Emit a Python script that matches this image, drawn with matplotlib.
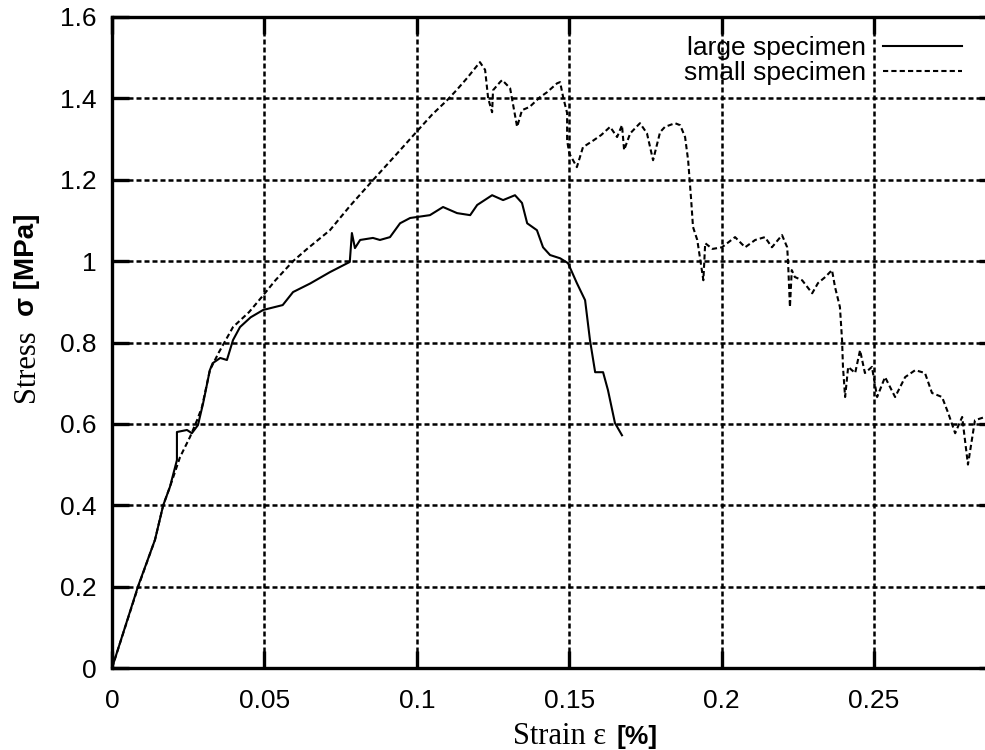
import matplotlib.pyplot as plt

# large specimen (solid)
large_strain = [0, 0.0086, 0.0141, 0.0168, 0.019, 0.0213, 0.0213, 0.0246, 0.0262, 0.0282,
                0.0299, 0.0321, 0.033, 0.0355, 0.0377, 0.0397, 0.042, 0.0455, 0.0496, 0.056,
                0.0594, 0.065, 0.0715, 0.078, 0.0787, 0.0797, 0.0814, 0.0856, 0.0879, 0.0912,
                0.0945, 0.0978, 0.1043, 0.1086, 0.1132, 0.1175, 0.1198, 0.1247, 0.1283, 0.1322,
                0.1345, 0.1362, 0.1394, 0.1414, 0.1437, 0.147, 0.1496, 0.1525, 0.1552, 0.1568,
                0.1585, 0.1611, 0.1627, 0.165, 0.1673]
large_stress = [0, 0.202, 0.315, 0.40, 0.445, 0.511, 0.58, 0.585, 0.577, 0.597,
                0.651, 0.732, 0.749, 0.762, 0.757, 0.806, 0.838, 0.862, 0.88, 0.892,
                0.924, 0.945, 0.973, 0.998, 1.069, 1.032, 1.052, 1.057, 1.052, 1.059,
                1.093, 1.106, 1.113, 1.133, 1.118, 1.113, 1.138, 1.162, 1.15, 1.162,
                1.143, 1.093, 1.076, 1.034, 1.015, 1.007, 0.995, 0.946, 0.904, 0.806,
                0.727, 0.727, 0.683, 0.602, 0.572]

# small specimen (dashed)
small_strain = [0, 0.0086, 0.0141, 0.0168, 0.019, 0.0223, 0.0256, 0.0279, 0.0295, 0.0312,
                0.0321, 0.035, 0.0397, 0.045, 0.0496, 0.0535, 0.0594, 0.064, 0.0715, 0.078,
                0.0856, 0.093, 0.1004, 0.105, 0.110, 0.113, 0.1165, 0.1207, 0.1224, 0.1234,
                0.1247, 0.125, 0.1273, 0.128, 0.1306, 0.1329, 0.1345, 0.137, 0.1404, 0.1427,
                0.146, 0.147, 0.148, 0.1493, 0.1493, 0.150, 0.1525, 0.1545, 0.158, 0.1605,
                0.1634, 0.1657, 0.1673, 0.168, 0.170, 0.1732, 0.1755, 0.1775, 0.1798, 0.1814,
                0.1847, 0.1864, 0.188, 0.189, 0.190, 0.1906, 0.192, 0.194, 0.1946, 0.197,
                0.2001, 0.2044, 0.2077, 0.211, 0.2142, 0.2165, 0.2198, 0.2215, 0.2218, 0.2224,
                0.223, 0.224, 0.2264, 0.2297, 0.2316, 0.234, 0.2362, 0.2372, 0.2388, 0.2395,
                0.2398, 0.2405, 0.2415, 0.2438, 0.2454, 0.247, 0.2493, 0.251, 0.2536, 0.2569,
                0.2602, 0.2635, 0.2667, 0.269, 0.2723, 0.2743, 0.2766, 0.2789, 0.2808, 0.2831,
                0.2864, 0.29]
small_stress = [0, 0.2, 0.315, 0.40, 0.445, 0.518, 0.568, 0.609, 0.641, 0.70,
                0.732, 0.775, 0.838, 0.875, 0.916, 0.952, 1.0, 1.03, 1.076, 1.135,
                1.199, 1.26, 1.322, 1.36, 1.396, 1.42, 1.45, 1.489, 1.47, 1.40,
                1.366, 1.42, 1.44, 1.445, 1.425, 1.33, 1.371, 1.379, 1.403, 1.415,
                1.437, 1.44, 1.403, 1.364, 1.297, 1.265, 1.231, 1.28, 1.297, 1.31,
                1.33, 1.305, 1.334, 1.273, 1.314, 1.339, 1.314, 1.248, 1.317, 1.33,
                1.339, 1.334, 1.305, 1.248, 1.15, 1.084, 1.052, 0.953, 1.044, 1.03,
                1.034, 1.059, 1.034, 1.052, 1.059, 1.034, 1.064, 1.034, 0.995, 0.887,
                0.978, 0.961, 0.953, 0.921, 0.946, 0.961, 0.978, 0.936, 0.887, 0.806,
                0.74, 0.666, 0.74, 0.725, 0.781, 0.725, 0.74, 0.666, 0.715, 0.666,
                0.715, 0.732, 0.725, 0.676, 0.666, 0.627, 0.577, 0.617, 0.50, 0.609,
                0.617, 0.60]

xticks = [0, 0.05, 0.1, 0.15, 0.2, 0.25]
xticklabels = ['0', '0.05', '0.1', '0.15', '0.2', '0.25']
yticks = [0, 0.2, 0.4, 0.6, 0.8, 1.0, 1.2, 1.4, 1.6]
yticklabels = ['0', '0.2', '0.4', '0.6', '0.8', '1', '1.2', '1.4', '1.6']

plt.rcParams['font.family'] = ['Liberation Sans', 'DejaVu Sans']

fig = plt.figure(figsize=(9.85, 7.5), dpi=100)
W, H = 985.0, 750.0
ax = fig.add_axes([112 / W, 82 / H, 884 / W, 651 / H])

ax.plot(large_strain, large_stress, color='black', lw=1.5, label='large specimen')
ax.plot(small_strain, small_stress, color='black', lw=1.5, linestyle=(0, (2.5, 1.5)),
        label='small specimen')

ax.set_xlim(0, 0.29)
ax.set_ylim(0, 1.6)
ax.set_xticks(xticks)
ax.set_xticklabels(xticklabels)
ax.set_yticks(yticks)
ax.set_yticklabels(yticklabels)

ax.grid(True, color='black', linestyle=(0, (2, 1.2)), linewidth=1.8)
ax.set_axisbelow(True)

for side in ['left', 'bottom', 'top', 'right']:
    ax.spines[side].set_linewidth(2.4)

ax.tick_params(axis='both', direction='in', length=12, width=2.4, labelsize=19)
ax.tick_params(axis='x', top=True, pad=15)
ax.tick_params(axis='y', right=True, pad=11)

leg = ax.legend(loc='upper right', bbox_to_anchor=(962 / W, 1 - 36 / H),
                bbox_transform=fig.transFigure, frameon=False, markerfirst=False,
                fontsize=19, handlelength=3.0, handletextpad=0.65, labelspacing=0.05,
                borderpad=0, borderaxespad=0)

# axis labels: serif words with sans-serif symbol/units, as in the original plot
fig.text(27 / W, 1 - 402 / H, 'Stress', rotation=90, ha='center', va='bottom',
         family='Liberation Serif', fontsize=22)
fig.text(27 / W, 1 - 316 / H, 'σ [MPa]', rotation=90, ha='center', va='bottom',
         family='Liberation Sans', fontweight='bold', fontsize=20)
fig.text(513 / W, 1 - 744 / H, 'Strain ε', ha='left', va='baseline',
         family='Liberation Serif', fontsize=22)
fig.text(616 / W, 1 - 744 / H, '[%]', ha='left', va='baseline',
         family='Liberation Sans', fontweight='bold', fontsize=19)

fig.savefig('out.png', dpi=100)
